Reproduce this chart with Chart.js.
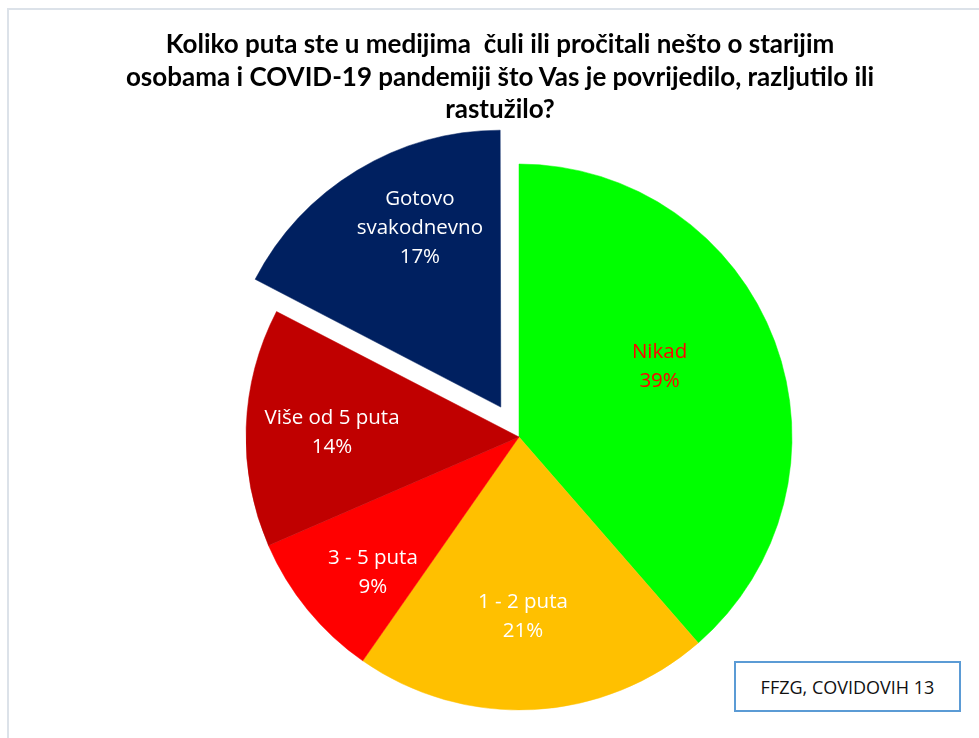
<!DOCTYPE html>
<html>
<head>
<meta charset="utf-8">
<script src="https://cdn.jsdelivr.net/npm/chart.js@4/dist/chart.umd.min.js"></script>
<style>
  html, body { margin: 0; padding: 0; background: #ffffff; overflow: hidden; }
  #wrap { position: relative; width: 979px; height: 738px; }
  #frame { position: absolute; left: 7px; top: 8px; right: 0; bottom: 0;
           border-top: 2px solid #DCE2E9; border-left: 2px solid #DCE2E9; }
  #chart { position: absolute; left: 0; top: 0; }
  #title { position: absolute; left: 50px; top: 27px; width: 900px; text-align: center;
           font-family: Lato, "Liberation Sans", sans-serif; font-weight: bold; font-size: 26px;
           line-height: 32.5px; color: #000; white-space: pre; }
  #note { position: absolute; left: 734px; top: 661px; width: 227px; height: 51px; box-sizing: border-box;
          border: 2px solid #5B9BD5; font-family: "Open Sans", sans-serif; font-size: 18px; color: #111;
          display: flex; align-items: center; justify-content: center; background: #fff; }
</style>
</head>
<body>
<div id="wrap">
  <div id="frame"></div>
  <canvas id="chart" width="979" height="738"></canvas>
  <div id="title"></div>
  <div id="note"></div>
</div>
<script>
// ---- data ----
const titleLines = [
  'Koliko puta ste u medijima  čuli ili pročitali nešto o starijim',
  'osobama i COVID-19 pandemiji što Vas je povrijedilo, razljutilo ili',
  'rastužilo?'
];
const categories = ['Nikad', '1 - 2 puta', '3 - 5 puta', 'Više od 5 puta', 'Gotovo svakodnevno'];
const shares = [38.6, 21.1, 8.8, 14.1, 17.4];
const percentLabels = ['39%', '21%', '9%', '14%', '17%'];
const sourceNote = 'FFZG, COVIDOVIH 13';

// ---- styling ----
const sliceColors = ['#00FF00', '#FFC000', '#FF0000', '#C00000', '#002060'];
const labelColors = ['#FF0000', '#FFFFFF', '#FFFFFF', '#FFFFFF', '#FFFFFF'];
const sliceOffsets = [0, 0, 0, 0, 140];
// label placement: fraction of radius, angular shift in degrees (clockwise)
const labelPlace = [
  { r: 0.575, da: -5.9 },
  { r: 0.66, da: 1.8 },
  { r: 0.73, da: -3.6 },
  { r: 0.685, da: -0.8 },
  { r: 0.72, da: 7.0 }
];

document.getElementById('title').textContent = titleLines.join('\n');
document.getElementById('note').textContent = sourceNote;

function wrapName(name) {
  if (name.length <= 15) return [name];
  const i = name.indexOf(' ');
  return [name.slice(0, i), name.slice(i + 1)];
}

const labelPlugin = {
  id: 'sliceLabels',
  afterDatasetsDraw(chart) {
    const ctx = chart.ctx;
    const meta = chart.getDatasetMeta(0);
    ctx.save();
    ctx.font = '20.5px "Open Sans", sans-serif';
    ctx.textAlign = 'center';
    ctx.textBaseline = 'middle';
    meta.data.forEach((arc, i) => {
      const p = arc.getProps(['x', 'y', 'startAngle', 'endAngle', 'outerRadius'], true);
      const mid = (p.startAngle + p.endAngle) / 2;
      const shift = (arc.options.offset || 0) / 4;
      const cx = p.x + Math.cos(mid) * shift;
      const cy = p.y + Math.sin(mid) * shift;
      const a = mid + labelPlace[i].da * Math.PI / 180;
      const r = p.outerRadius * labelPlace[i].r;
      const lx = cx + Math.cos(a) * r;
      const ly = cy + Math.sin(a) * r;
      const lines = wrapName(categories[i]).concat([percentLabels[i]]);
      const lh = 29;
      const y0 = ly - (lines.length - 1) * lh / 2;
      ctx.fillStyle = labelColors[i];
      lines.forEach((t, k) => ctx.fillText(t, lx, y0 + k * lh));
    });
    ctx.restore();
  }
};

new Chart(document.getElementById('chart'), {
  type: 'pie',
  data: {
    labels: categories,
    datasets: [{
      data: shares,
      backgroundColor: sliceColors,
      borderColor: sliceColors,
      borderWidth: 0.5,
      offset: sliceOffsets,
      radius: 273
    }]
  },
  options: {
    responsive: false,
    animation: false,
    events: [],
    layout: { padding: { left: 59, right: 0, top: 136, bottom: 0 } },
    plugins: {
      legend: { display: false },
      tooltip: { enabled: false },
      title: { display: false }
    }
  },
  plugins: [labelPlugin]
});
</script>
</body>
</html>
